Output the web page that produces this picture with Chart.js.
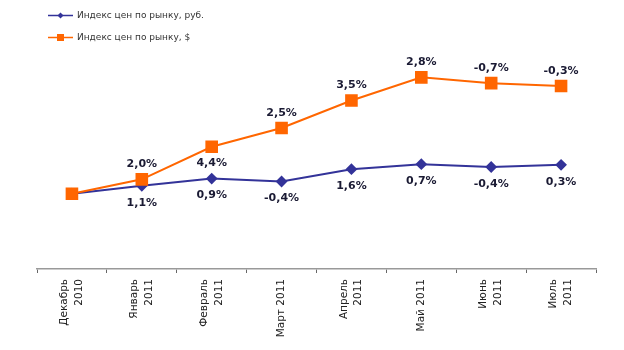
<!DOCTYPE html>
<html>
<head>
<meta charset="utf-8">
<script src="https://cdn.jsdelivr.net/npm/chart.js@4"></script>
<style>
  html, body { margin: 0; padding: 0; background: #fff; }
  #wrap { width: 624px; height: 350px; position: relative; }
</style>
</head>
<body>
<div id="wrap"><canvas id="ch"></canvas></div>
<script>
// ── Datos ────────────────────────────────────────────────────────────────
const months = [
    ['Декабрь', '2010'], ['Январь', '2011'], ['Февраль', '2011'], 'Март 2011',
    ['Апрель', '2011'], 'Май 2011', ['Июнь', '2011'], ['Июль', '2011'],
];
const rubIndex = [100, 101.1, 102.1, 101.7, 103.4, 104.1, 103.7, 104.0];
const usdIndex = [100, 102.0, 106.5, 109.1, 112.9, 116.1, 115.3, 114.9];
const rubLabels = ['', '1,1%', '0,9%', '-0,4%', '1,6%', '0,7%', '-0,4%', '0,3%'];
const usdLabels = ['', '2,0%', '4,4%', '2,5%', '3,5%', '2,8%', '-0,7%', '-0,3%'];

const RUB_COLOR = '#333399';
const USD_COLOR = '#FF6600';
const FONT = 'Verdana, "DejaVu Sans", sans-serif';

// ── Etiquetas de puntos ──────────────────────────────────────────────────
const pointLabels = {
    id: 'pointLabels',
    afterDatasetsDraw(chart) {
        const ctx = chart.ctx;
        ctx.save();
        ctx.font = 'bold 11px ' + FONT;
        ctx.fillStyle = '#1a1a33';
        ctx.textAlign = 'center';
        ctx.textBaseline = 'middle';
        chart.getDatasetMeta(0).data.forEach((p, i) => {
            if (rubLabels[i]) ctx.fillText(rubLabels[i], p.x, p.y + 17);
        });
        chart.getDatasetMeta(1).data.forEach((p, i) => {
            if (!usdLabels[i]) return;
            const dy = i === 2 ? 16 : -15;
            ctx.fillText(usdLabels[i], p.x, p.y + dy);
        });
        ctx.restore();
    },
};

// ── Centrar etiquetas de dos lineas sobre su tick ────────────────────────
const centerTicks = {
    id: 'centerTicks',
    beforeDraw(chart) {
        const sc = chart.scales.x;
        sc.getLabelItems().forEach(it => {
            if (Array.isArray(it.label) && !it._shifted) {
                it.options.translation[0] -= 7.5;
                it._shifted = true;
            }
        });
    },
};

// ── Leyenda vertical arriba a la izquierda ───────────────────────────────
const topLegend = {
    id: 'topLegend',
    afterDraw(chart) {
        const ctx = chart.ctx;
        ctx.save();
        ctx.font = '9px ' + FONT;
        ctx.textBaseline = 'middle';
        chart.data.datasets.forEach((ds, i) => {
            const y = 15.5 + i * 22;
            ctx.strokeStyle = ds.borderColor;
            ctx.lineWidth = 1.5;
            ctx.beginPath(); ctx.moveTo(48, y); ctx.lineTo(73, y); ctx.stroke();
            ctx.fillStyle = ds.borderColor;
            if (i === 0) {
                ctx.beginPath();
                ctx.moveTo(60.5, y - 3); ctx.lineTo(63.5, y); ctx.lineTo(60.5, y + 3); ctx.lineTo(57.5, y);
                ctx.closePath(); ctx.fill();
            } else {
                ctx.fillRect(57, y - 3.5, 7, 7);
            }
            ctx.fillStyle = '#333';
            ctx.fillText(ds.label, 77, y);
        });
        ctx.restore();
    },
};

new Chart(document.getElementById('ch'), {
    type: 'line',
    data: {
        labels: months,
        datasets: [
            {
                label: 'Индекс цен по рынку, руб.', data: rubIndex, order: 2,
                borderColor: RUB_COLOR, backgroundColor: RUB_COLOR,
                borderWidth: 2, pointStyle: 'rectRot', pointRadius: 4.5, tension: 0,
            },
            {
                label: 'Индекс цен по рынку, $', data: usdIndex, order: 1,
                borderColor: USD_COLOR, backgroundColor: USD_COLOR,
                borderWidth: 2, pointStyle: 'rect', pointRadius: 7.5, tension: 0,
            },
        ],
    },
    options: {
        responsive: true, maintainAspectRatio: false, animation: false,
        layout: { padding: { top: 60, left: 37, right: 28, bottom: 0 } },
        plugins: { legend: { display: false }, tooltip: { enabled: false } },
        scales: {
            x: {
                offset: true,
                grid: { drawOnChartArea: false, drawTicks: true, tickLength: 4, color: '#666', offset: true },
                border: { color: '#999', width: 1.5 },
                ticks: {
                    color: '#222', font: { family: FONT, size: 10.5, lineHeight: 1.4 },
                    maxRotation: 90, minRotation: 90, padding: 6,
                },
                afterFit: s => { s.height = 81; },
            },
            y: { display: false, min: 89.6, max: 118.5 },
        },
    },
    plugins: [pointLabels, centerTicks, topLegend],
});
</script>
</body>
</html>
